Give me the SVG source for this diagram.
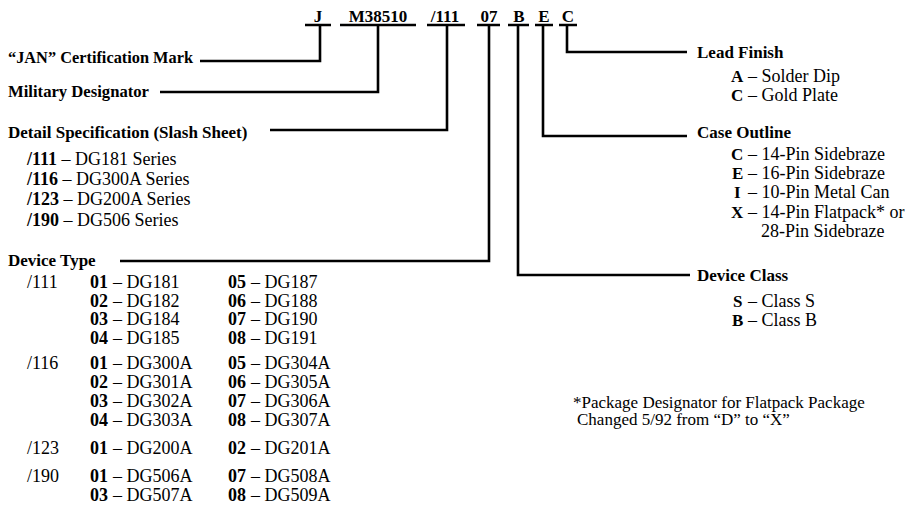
<svg xmlns="http://www.w3.org/2000/svg" width="913" height="505" viewBox="0 0 913 505">
<style>
text{font-family:"Liberation Serif","Times New Roman",serif;fill:#000}
.b{font-weight:bold;font-size:17px}
.n{font-size:18px}
.nb{font-size:18px;font-weight:bold}
.lt{font-size:17px;font-weight:bold}
.code{font-weight:bold;font-size:17px;text-anchor:middle}
.fn{font-size:17px}
.ln{fill:none;stroke:#000;stroke-width:2.6;stroke-linejoin:miter}
</style>
<rect width="913" height="505" fill="#fff"/>
<g id="code">
<text class="code" x="318" y="22">J</text>
<text class="code" x="378" y="22">M38510</text>
<text class="code" x="445" y="22">/111</text>
<text class="code" x="489" y="22">07</text>
<text class="code" x="519" y="22">B</text>
<text class="code" x="544" y="22">E</text>
<text class="code" x="568" y="22">C</text>
</g>
<g id="connectors">
<path class="ln" d="M305 25H331M320 25V61H200"/>
<path class="ln" d="M340 25H416M378 25V92H160"/>
<path class="ln" d="M427 25H465M447 25V130H270"/>
<path class="ln" d="M477 25H500M489 25V261H120"/>
<path class="ln" d="M508 25H529M518 25V275H690"/>
<path class="ln" d="M535 25H553M543 25V136H687"/>
<path class="ln" d="M559 25H577M567 25V52H687"/>
</g>
<g id="jan">
<text class="b" x="8" y="63" textLength="185" lengthAdjust="spacingAndGlyphs">“JAN” Certification Mark</text>
</g>
<g id="military">
<text class="b" x="8" y="97" textLength="141" lengthAdjust="spacingAndGlyphs">Military Designator</text>
</g>
<g id="detail">
<text class="b" x="8" y="138">Detail Specification (Slash Sheet)</text>
<text class="n" x="27" y="165"><tspan font-weight="bold">/111</tspan> – DG181 Series</text>
<text class="n" x="27" y="185"><tspan font-weight="bold">/116</tspan> – DG300A Series</text>
<text class="n" x="27" y="205"><tspan font-weight="bold">/123</tspan> – DG200A Series</text>
<text class="n" x="27" y="226"><tspan font-weight="bold">/190</tspan> – DG506 Series</text>
</g>
<g id="device-type">
<text class="b" x="8" y="266">Device Type</text>
<text class="n" x="27" y="288">/111</text>
<text class="nb" x="90" y="288">01</text><text class="n" x="113" y="288">– DG181</text>
<text class="nb" x="90" y="307">02</text><text class="n" x="113" y="307">– DG182</text>
<text class="nb" x="90" y="325">03</text><text class="n" x="113" y="325">– DG184</text>
<text class="nb" x="90" y="344">04</text><text class="n" x="113" y="344">– DG185</text>
<text class="nb" x="228" y="288">05</text><text class="n" x="251" y="288">– DG187</text>
<text class="nb" x="228" y="307">06</text><text class="n" x="251" y="307">– DG188</text>
<text class="nb" x="228" y="325">07</text><text class="n" x="251" y="325">– DG190</text>
<text class="nb" x="228" y="344">08</text><text class="n" x="251" y="344">– DG191</text>
<text class="n" x="27" y="369">/116</text>
<text class="nb" x="90" y="369">01</text><text class="n" x="113" y="369">– DG300A</text>
<text class="nb" x="90" y="388">02</text><text class="n" x="113" y="388">– DG301A</text>
<text class="nb" x="90" y="407">03</text><text class="n" x="113" y="407">– DG302A</text>
<text class="nb" x="90" y="426">04</text><text class="n" x="113" y="426">– DG303A</text>
<text class="nb" x="228" y="369">05</text><text class="n" x="251" y="369">– DG304A</text>
<text class="nb" x="228" y="388">06</text><text class="n" x="251" y="388">– DG305A</text>
<text class="nb" x="228" y="407">07</text><text class="n" x="251" y="407">– DG306A</text>
<text class="nb" x="228" y="426">08</text><text class="n" x="251" y="426">– DG307A</text>
<text class="n" x="27" y="454">/123</text>
<text class="nb" x="90" y="454">01</text><text class="n" x="113" y="454">– DG200A</text>
<text class="nb" x="228" y="454">02</text><text class="n" x="251" y="454">– DG201A</text>
<text class="n" x="27" y="482">/190</text>
<text class="nb" x="90" y="482">01</text><text class="n" x="113" y="482">– DG506A</text>
<text class="nb" x="90" y="501">03</text><text class="n" x="113" y="501">– DG507A</text>
<text class="nb" x="228" y="482">07</text><text class="n" x="251" y="482">– DG508A</text>
<text class="nb" x="228" y="501">08</text><text class="n" x="251" y="501">– DG509A</text>
</g>
<g id="lead-finish">
<text class="b" x="697" y="58">Lead Finish</text>
<text class="lt" x="731" y="82">A</text><text class="n" x="748" y="82">– Solder Dip</text>
<text class="lt" x="731" y="101">C</text><text class="n" x="748" y="101">– Gold Plate</text>
</g>
<g id="case-outline">
<text class="b" x="697" y="138">Case Outline</text>
<text class="lt" x="731" y="160">C</text><text class="n" x="748" y="160">– 14-Pin Sidebraze</text>
<text class="lt" x="732" y="179">E</text><text class="n" x="748" y="179">– 16-Pin Sidebraze</text>
<text class="lt" x="734" y="198">I</text><text class="n" x="748" y="198">– 10-Pin Metal Can</text>
<text class="lt" x="731" y="218">X</text><text class="n" x="748" y="218">– 14-Pin Flatpack* or</text>
<text class="n" x="761" y="237">28-Pin Sidebraze</text>
</g>
<g id="device-class">
<text class="b" x="697" y="281">Device Class</text>
<text class="lt" x="733" y="307">S</text><text class="n" x="748" y="307">– Class S</text>
<text class="lt" x="732" y="326">B</text><text class="n" x="748" y="326">– Class B</text>
</g>
<g id="footnote">
<text class="fn" x="573" y="408">*Package Designator for Flatpack Package</text>
<text class="fn" x="577" y="425">Changed 5/92 from “D” to “X”</text>
</g>
</svg>
